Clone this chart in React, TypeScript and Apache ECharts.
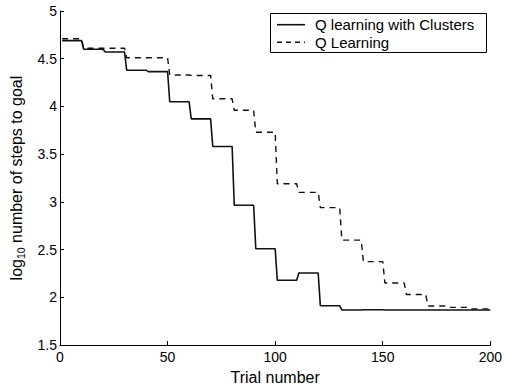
import React, { useEffect, useRef } from "react";
import * as echarts from "echarts";

// Block-averaged values, one per block of 10 trials (1-10, 11-20, ..., 191-200)
const blockSize = 10;
const clusterValues = [
  4.69, 4.6, 4.57, 4.38, 4.365, 4.05, 3.87, 3.58, 2.965, 2.51,
  2.18, 2.256, 1.912, 1.868, 1.87, 1.868, 1.868, 1.868, 1.868, 1.868,
];
const qValues = [
  4.71, 4.61, 4.61, 4.51, 4.51, 4.33, 4.325, 4.08, 3.96, 3.73,
  3.19, 3.1, 2.94, 2.6, 2.375, 2.15, 2.03, 1.91, 1.895, 1.88,
];
const seriesNames = ["Q learning with Clusters", "Q Learning"];
const xTicks = [0, 200, 50];
const yTicks = [1.5, 5, 0.5];

function toSteps(values: number[]): number[][] {
  const pts: number[][] = [];
  values.forEach((v, i) => {
    pts.push([i * blockSize + 1, v]);
    pts.push([i * blockSize + blockSize, v]);
  });
  return pts;
}

export default function App() {
  const ref = useRef<HTMLDivElement>(null);
  useEffect(() => {
    if (!ref.current) return;
    const chart = echarts.init(ref.current, null, { renderer: "svg" });
    const font = "'Liberation Sans', Arial, Helvetica, sans-serif";
    const dash = [6, 5];
    const legendRows = [24.7, 42.3];
    const legendLines: any[] = [];
    seriesNames.forEach((name, i) => {
      legendLines.push({
        type: "line",
        shape: { x1: 277, y1: legendRows[i], x2: 305, y2: legendRows[i] },
        style: { stroke: "#111", lineWidth: i === 0 ? 1.6 : 1.4, lineDash: i === 0 ? null : [5, 4] },
      });
      legendLines.push({
        type: "text",
        x: 315,
        y: legendRows[i],
        style: { text: name, fontSize: 15, fontFamily: font, fill: "#000", verticalAlign: "middle", align: "left" },
      });
    });
    chart.setOption({
      animation: false,
      backgroundColor: "#fff",
      textStyle: { fontFamily: font },
      grid: { left: 57, right: 11, top: 11, bottom: 37, containLabel: false },
      graphic: [
        {
          type: "rect",
          shape: { x: 270.5, y: 13.5, width: 216, height: 39 },
          style: { fill: "#fff", stroke: "#000", lineWidth: 1 },
          z: 100,
        },
        ...legendLines.map((e) => ({ ...e, z: 101 })),
      ],
      xAxis: {
        type: "value",
        min: xTicks[0],
        max: xTicks[1],
        interval: xTicks[2],
        name: "Trial number",
        nameLocation: "middle",
        nameGap: 18,
        nameTextStyle: { fontSize: 16, color: "#000", fontFamily: font },
        axisLine: { lineStyle: { color: "#000", width: 1 } },
        axisTick: { inside: true, length: 4, lineStyle: { color: "#000" } },
        axisLabel: { fontSize: 14, color: "#000", margin: 5, fontFamily: font },
        splitLine: { show: false },
      },
      yAxis: {
        type: "value",
        min: yTicks[0],
        max: yTicks[1],
        interval: yTicks[2],
        name: "{a|log}{b|10}{a| number of steps to goal}",
        nameLocation: "middle",
        nameGap: 34,
        nameTextStyle: {
          color: "#000",
          fontFamily: font,
          rich: {
            a: { fontSize: 16, lineHeight: 20, color: "#000", fontFamily: font },
            b: { fontSize: 10.5, lineHeight: 10, verticalAlign: "bottom", color: "#000", fontFamily: font },
          },
        },
        axisLine: { lineStyle: { color: "#000", width: 1 } },
        axisTick: { inside: true, length: 4, lineStyle: { color: "#000" } },
        axisLabel: { fontSize: 14, color: "#000", margin: 3, fontFamily: font },
        splitLine: { show: false },
      },
      series: [
        {
          name: seriesNames[0],
          type: "line",
          data: toSteps(clusterValues),
          symbol: "none",
          lineStyle: { color: "#111", width: 1.6, type: "solid" },
          itemStyle: { color: "#111" },
        },
        {
          name: seriesNames[1],
          type: "line",
          data: toSteps(qValues),
          symbol: "none",
          lineStyle: { color: "#111", width: 1.4, type: dash },
          itemStyle: { color: "#111" },
        },
      ],
    });
    return () => chart.dispose();
  }, []);
  return (
    <div
      ref={ref}
      style={{ position: "fixed", left: 0, top: 0, width: 505, height: 390, background: "#fff" }}
    />
  );
}
